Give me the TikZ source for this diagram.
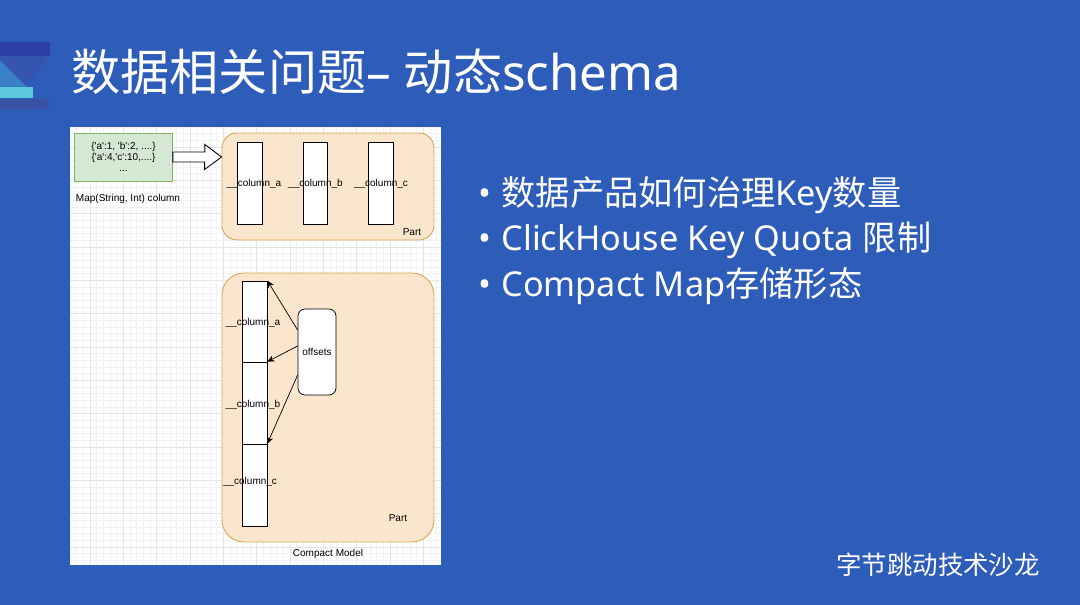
\documentclass[tikz,border=0pt]{standalone}
\usepackage{fontspec}
\setmainfont{Noto Sans}
\newfontfamily\cjk{Noto Sans CJK SC}
\newfontfamily\diafont{Liberation Sans}
\usetikzlibrary{arrows.meta,calc}
\definecolor{slidebg}{RGB}{46,92,185}
\definecolor{logotop}{RGB}{44,62,168}
\definecolor{logotri}{RGB}{52,84,176}
\definecolor{logoteal}{RGB}{58,128,200}
\definecolor{logocyan}{RGB}{92,200,220}
\definecolor{logobot}{RGB}{56,82,164}
\definecolor{mapfill}{RGB}{213,232,212}
\definecolor{mapline}{RGB}{130,179,102}
\definecolor{partfill}{RGB}{250,230,205}
\definecolor{partline}{RGB}{216,164,80}
\begin{document}
\begin{tikzpicture}[
  x=0.02cm, y=-0.02cm,
  box/.style={draw=black, line width=0.4pt, fill=white, inner sep=0pt},
  lbl/.style={font=\diafont\fontsize{5.7}{6.4}\selectfont, inner sep=0pt, text=black},
  partbox/.style={draw=partline, fill=partfill, line width=0.5pt, inner sep=0pt,
    minimum width=4.24cm},
  ptr/.style={-{Stealth[length=4pt,width=3.6pt]}, line width=0.4pt},
  bulletline/.style={anchor=west, text=white, inner sep=0pt,
    font=\fontsize{19.5}{24}\selectfont}
]
  % slide background and logo
  \fill[slidebg] (0,0) rectangle (1080,605);
  \useasboundingbox (0,0) rectangle (1080,605);
  \fill[logotop]  (0,42) rectangle (50,56);
  \fill[logotri]  (0,56) -- (50,56) -- (24,87) -- (0,87) -- cycle;
  \fill[logoteal] (0,60) -- (27,87) -- (0,87) -- cycle;
  \fill[logocyan] (0,87) rectangle (33,98);
  \fill[logobot]  (0,99) rectangle (49,109);

  \node[anchor=west, text=white, inner sep=0pt, font=\fontsize{28}{32}\selectfont]
    (title) at (71,72) {{\cjk 数据相关问题}– {\cjk 动态}schema};

  % white panel with grid
  \node[fill=white, inner sep=0pt, minimum width=7.42cm, minimum height=8.76cm]
    (panel) at (255.5,346) {};
  \begin{scope}
    \clip (70,127) rectangle (441,565);
    \foreach \i in {0,...,56}
      \draw[black!5, line width=0.3pt] ({70+6.667*\i},127) -- ++(0,438);
    \foreach \j in {0,...,66}
      \draw[black!5, line width=0.3pt] (70,{127+6.667*\j}) -- ++(371,0);
    \foreach \i in {0,...,11}
      \draw[black!10, line width=0.4pt] ({90+33.33*\i},127) -- ++(0,438);
    \foreach \j in {0,...,12}
      \draw[black!10, line width=0.4pt] (70,{147+33.33*\j}) -- ++(371,0);
  \end{scope}

  % map column
  \node[box, draw=mapline, fill=mapfill, minimum width=1.96cm, minimum height=0.96cm,
    align=center, lbl] (mapbox) at (123.5,157)
    {\{'a':1, 'b':2, ....\}\\\{'a':4,'c':10,....\}\\...};
  \node[lbl] (maplabel) at (128,199) {Map(String, Int) column};

  % part with one file per key
  \node[partbox, rounded corners=0.3cm, minimum height=2.14cm] (partA) at (328,186.5) {};
  \node[box, minimum width=0.49cm, minimum height=1.64cm] (cola) at (250,183) {};
  \node[box, minimum width=0.49cm, minimum height=1.64cm] (colb) at (315.5,183) {};
  \node[box, minimum width=0.49cm, minimum height=1.64cm] (colc) at (381,183) {};
  \node[lbl] (cola-l) at (254,184) {\_\_column\_a};
  \node[lbl] (colb-l) at (315.5,184) {\_\_column\_b};
  \node[lbl] (colc-l) at (381,184) {\_\_column\_c};
  \node[lbl] (partA-l) at (412,232) {Part};

  \draw[fill=white, line width=0.5pt]
    ($(mapbox.east)+(0,-5)$) -- ++(32,0) -- ++(0,-7.5)
    -- (mapbox.east -| partA.west) -- ++(-17,12.5) -- ++(0,-7.5)
    -- ($(mapbox.east)+(0,5)$) -- cycle;

  % compact part
  \node[partbox, rounded corners=0.44cm, minimum height=5.38cm] (partB) at (328,407.5) {};
  \node[box, minimum width=0.5cm, minimum height=1.62cm] (cola2) at (254.5,321.5) {};
  \node[box, minimum width=0.5cm, minimum height=1.64cm] (colb2) at (254.5,403) {};
  \node[box, minimum width=0.5cm, minimum height=1.64cm] (colc2) at (254.5,485) {};
  \node[lbl] (cola2-l) at (253,323) {\_\_column\_a};
  \node[lbl] (colb2-l) at (253,405) {\_\_column\_b};
  \node[lbl] (colc2-l) at (250,482) {\_\_column\_c};
  \node[box, rounded corners=0.14cm, minimum width=0.76cm, minimum height=1.72cm, lbl,
    draw=black] (offsets) at (317,352) {offsets};
  \node[lbl] (partB-l) at (398,518) {Part};
  \node[lbl] (model) at (328,554) {Compact Model};

  \draw[ptr] ($(offsets.west)+(0,-22)$) -- (cola2.north east);
  \draw[ptr] ($(offsets.west)+(0,-6)$) -- (colb2.north east);
  \draw[ptr] ($(offsets.west)+(0,23)$) -- (colc2.north east);

  % bullets
  \node[bulletline] (b1) at (478,195) {•\hspace{0.3em}{\cjk 数据产品如何治理}Key{\cjk 数量}};
  \node[bulletline] (b2) at (478,240) {•\hspace{0.3em}ClickHouse Key Quota {\cjk 限制}};
  \node[bulletline] (b3) at (478,286) {•\hspace{0.3em}Compact Map{\cjk 存储形态}};

  \node[text=white, inner sep=0pt, font=\cjk\fontsize{14.5}{16}\selectfont]
    (footer) at (938,565) {字节跳动技术沙龙};
\end{tikzpicture}
\end{document}
